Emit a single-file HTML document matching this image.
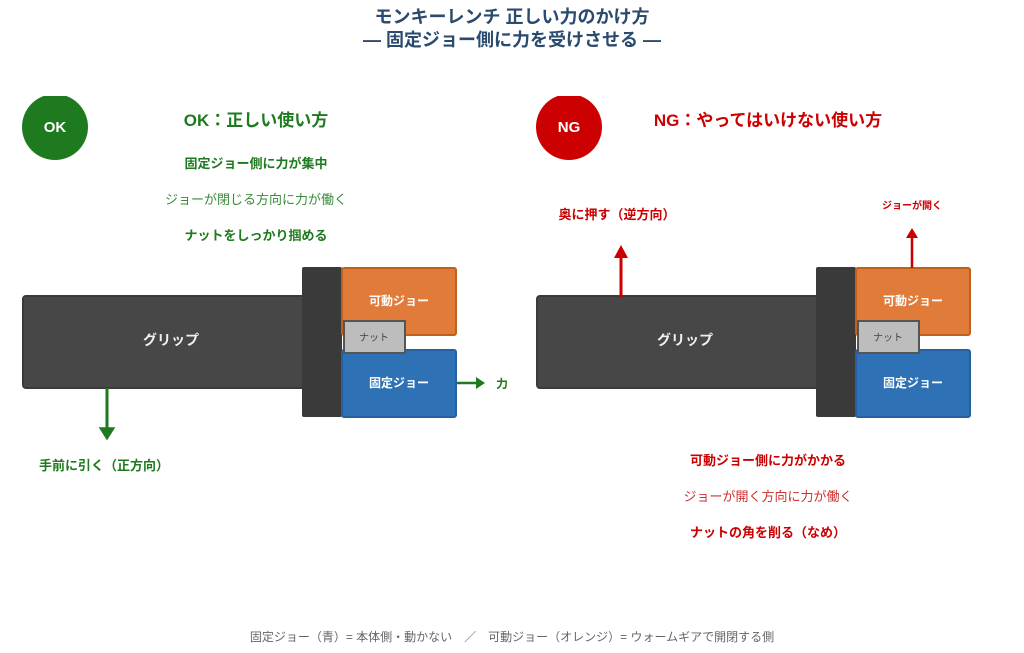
<!DOCTYPE html>
<html><head><meta charset="utf-8"><style>
body{margin:0;background:#fff;}
svg{display:block;font-family:"Liberation Sans","Noto Sans CJK JP",sans-serif;}
</style></head><body>
<svg width="1024" height="653" viewBox="0 0 1024 653">
<defs>
<clipPath id="c"><rect x="0" y="96" width="1024" height="600"/></clipPath>
</defs>
<text x="512" y="23" text-anchor="middle" font-size="18" font-weight="bold" fill="#2a4a6e">モンキーレンチ 正しい力のかけ方</text>
<text x="512" y="46" text-anchor="middle" font-size="18" font-weight="bold" fill="#2a4a6e">— 固定ジョー側に力を受けさせる —</text>

<g clip-path="url(#c)">
<circle cx="55" cy="127" r="33" fill="#1e7a1e"/>
<circle cx="569" cy="127" r="33" fill="#cc0000"/>
</g>
<text x="55" y="132" text-anchor="middle" font-size="15" font-weight="bold" fill="#fff">OK</text>
<text x="569" y="132" text-anchor="middle" font-size="15" font-weight="bold" fill="#fff">NG</text>

<text x="256" y="126" text-anchor="middle" font-size="17" font-weight="bold" fill="#1e7a1e">OK：正しい使い方</text>
<text x="256" y="168" text-anchor="middle" font-size="13" font-weight="bold" fill="#1e7a1e">固定ジョー側に力が集中</text>
<text x="256" y="204" text-anchor="middle" font-size="13" fill="#3a8a3a">ジョーが閉じる方向に力が働く</text>
<text x="256" y="240" text-anchor="middle" font-size="13" font-weight="bold" fill="#1e7a1e">ナットをしっかり掴める</text>

<text x="768" y="126" text-anchor="middle" font-size="17" font-weight="bold" fill="#cc0000">NG：やってはいけない使い方</text>

<g id="w">
<rect x="23" y="296" width="282" height="92" rx="3" fill="#474747" stroke="#3a3a3a" stroke-width="2"/>
<rect x="302" y="267" width="40" height="150" rx="2" fill="#3a3a3a"/>
<rect x="342" y="268" width="114" height="67" rx="2" fill="#e07b3a" stroke="#c0601a" stroke-width="2"/>
<rect x="342" y="350" width="114" height="67" rx="2" fill="#2e72b5" stroke="#2560a0" stroke-width="2"/>
<rect x="344" y="321" width="61" height="32" fill="#bdbdbd" stroke="#555" stroke-width="2"/>
<text x="171" y="345" text-anchor="middle" font-size="14" font-weight="bold" fill="#f0f0f0">グリップ</text>
<text x="399" y="305" text-anchor="middle" font-size="12" font-weight="bold" fill="#fff">可動ジョー</text>
<text x="399" y="387" text-anchor="middle" font-size="12" font-weight="bold" fill="#fff">固定ジョー</text>
<text x="374" y="341" text-anchor="middle" font-size="10" fill="#444">ナット</text>
</g>
<use href="#w" x="514"/>

<line x1="107" y1="388" x2="107" y2="436" stroke="#1e7a1e" stroke-width="3"/>
<path d="M100,428 L107,439 L114,428 Z" fill="#1e7a1e" stroke="#1e7a1e" stroke-width="1.5"/>
<line x1="457" y1="383" x2="478" y2="383" stroke="#1e7a1e" stroke-width="2.5"/>
<path d="M476,377 L485,383 L476,389 Z" fill="#1e7a1e"/>
<text x="502" y="388" text-anchor="middle" font-size="12" font-weight="bold" fill="#1e7a1e">力</text>
<text x="104" y="470" text-anchor="middle" font-size="13" font-weight="bold" fill="#1e7a1e">手前に引く（正方向）</text>

<line x1="621" y1="298" x2="621" y2="252" stroke="#cc0000" stroke-width="3"/>
<path d="M614,258 L621,245 L628,258 Z" fill="#cc0000"/>
<text x="617" y="219" text-anchor="middle" font-size="13" font-weight="bold" fill="#cc0000">奥に押す（逆方向）</text>
<line x1="912" y1="268" x2="912" y2="234" stroke="#cc0000" stroke-width="2.5"/>
<path d="M906,238 L912,228 L918,238 Z" fill="#cc0000"/>
<text x="912" y="209" text-anchor="middle" font-size="10" font-weight="bold" fill="#cc0000">ジョーが開く</text>

<text x="768" y="465" text-anchor="middle" font-size="13" font-weight="bold" fill="#cc0000">可動ジョー側に力がかかる</text>
<text x="768" y="501" text-anchor="middle" font-size="13" fill="#d03030">ジョーが開く方向に力が働く</text>
<text x="768" y="537" text-anchor="middle" font-size="13" font-weight="bold" fill="#cc0000">ナットの角を削る（なめ）</text>

<text x="512" y="641" text-anchor="middle" font-size="12" fill="#666">固定ジョー（青）= 本体側・動かない　／　可動ジョー（オレンジ）= ウォームギアで開閉する側</text>
</svg>
</body></html>
